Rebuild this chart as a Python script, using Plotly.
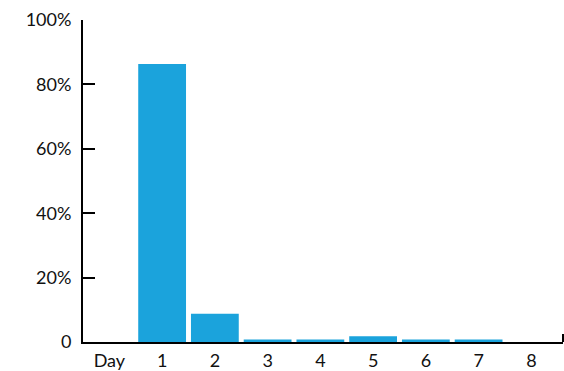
import plotly.graph_objects as go

days = ["Day", "1", "2", "3", "4", "5", "6", "7", "8"]
share = [None, 86.3, 8.8, 0.8, 0.8, 1.8, 0.8, 0.8, 0]

y_ticks = [0, 20, 40, 60, 80, 100]
y_labels = ["0", "20%", "40%", "60%", "80%", "100%"]

fig = go.Figure()

fig.add_trace(go.Bar(x=days, y=share,
                     marker=dict(color='#1ba3dc', line=dict(width=0))))

fig.update_layout(
    width=564, height=371,
    margin=dict(l=83, r=1, t=20, b=29, autoexpand=False),
    plot_bgcolor='white', paper_bgcolor='white',
    showlegend=False,
    bargap=0.094,
    font=dict(family='Lato, sans-serif', size=18, color='#111111'))

fig.update_yaxes(range=[0, 100], tickvals=y_ticks, ticktext=y_labels,
                 showgrid=False, zeroline=False, automargin=False,
                 showline=True, linecolor='black', linewidth=2,
                 ticks='inside', ticklen=12, tickwidth=2, tickcolor='black',
                 ticklabelstandoff=6)

fig.update_xaxes(type='category', range=[-0.5, 8.6],
                 showgrid=False, zeroline=False, automargin=False,
                 showline=True, linecolor='black', linewidth=2,
                 ticks='', ticklabelstandoff=1)

# small end tick at the right of the x axis
fig.add_shape(type='line', xref='paper', yref='paper',
              x0=1, x1=1, y0=0, y1=0.025,
              line=dict(color='black', width=2))

# page body has an 8px default margin, drop it so the chart sits at 0,0
fig.write_html("out.html", config={'displayModeBar': False},
               post_script="document.body.style.margin='0';")
